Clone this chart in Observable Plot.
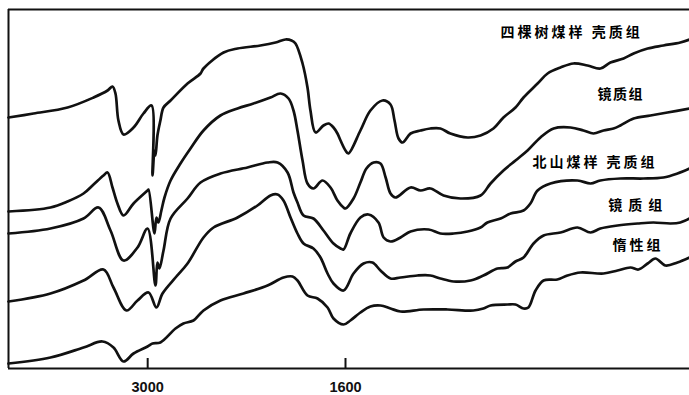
<!DOCTYPE html>
<html><head><meta charset="utf-8">
<script src="https://cdn.jsdelivr.net/npm/d3@7"></script>
<script src="https://cdn.jsdelivr.net/npm/@observablehq/plot@0.6"></script>
<style>html,body{margin:0;padding:0;background:#fff}</style>
</head><body><div id="chart"></div>
<script>
// IR spectra: [wavenumber (cm-1), relative transmittance (offset, a.u.)]
const sksExinite = [[3985,249],[3808,253],[3567,259],[3383,269],[3284,276],[3249,280],[3228,273],[3207,246],[3171,232],[3100,239],[3030,253],[2973,261],[2966,191],[2952,216],[2945,211],[2931,231],[2910,246],[2888,259],[2838,266],[2718,283],[2626,293],[2605,298],[2463,314],[2364,318],[2202,321],[2095,324],[2025,327],[1982,326],[1954,323],[1904,303],[1869,279],[1848,256],[1812,234],[1756,241],[1720,243],[1685,239],[1657,233],[1635,226],[1600,216],[1590,213],[1548,236],[1513,256],[1471,266],[1443,262],[1429,246],[1415,228],[1401,224],[1373,233],[1338,236],[1304,238],[1269,238],[1234,233],[1174,229],[1129,231],[1084,238],[1049,249],[1007,259],[979,269],[930,283],[895,293],[850,299],[805,303],[756,301],[711,298],[676,304],[630,308],[595,313],[546,318],[491,321],[432,324],[400,327]];
const sksVitrinite = [[3985,155],[3688,159],[3567,165],[3454,173],[3383,182],[3313,191],[3284,194],[3249,179],[3214,163],[3171,151],[3100,163],[3001,176],[2994,177],[2952,133],[2938,149],[2924,144],[2903,156],[2881,169],[2838,186],[2768,203],[2697,218],[2605,236],[2485,251],[2364,258],[2251,263],[2131,269],[2060,273],[2003,268],[1968,256],[1940,236],[1904,206],[1869,183],[1827,178],[1763,186],[1706,179],[1657,166],[1614,159],[1600,158],[1572,168],[1548,184],[1527,198],[1502,204],[1478,203],[1460,189],[1443,173],[1426,169],[1373,179],[1338,176],[1304,178],[1258,171],[1199,168],[1129,171],[1094,183],[1049,196],[1007,206],[965,216],[920,229],[874,238],[815,239],[770,236],[735,233],[700,236],[665,238],[641,241],[595,248],[536,251],[477,254],[400,258]];
const bsExinite = [[3985,133],[3688,138],[3454,148],[3348,159],[3263,136],[3171,106],[3072,119],[3001,138],[2945,81],[2931,104],[2917,98],[2888,116],[2838,148],[2718,168],[2626,184],[2485,193],[2294,199],[2152,204],[2081,204],[2010,194],[1968,174],[1940,164],[1897,151],[1827,148],[1756,136],[1685,123],[1635,118],[1614,117],[1583,133],[1548,149],[1520,152],[1485,144],[1467,129],[1443,125],[1408,129],[1373,135],[1310,137],[1269,133],[1223,133],[1174,135],[1129,139],[1105,144],[1059,148],[1024,153],[979,156],[955,163],[930,176],[885,183],[791,186],[745,183],[711,186],[641,188],[561,188],[491,189],[442,193],[400,198]];
const bsVitrinite = [[3985,65],[3688,73],[3454,86],[3313,97],[3242,79],[3150,56],[3072,66],[2994,74],[2938,59],[2895,73],[2803,89],[2718,103],[2605,129],[2534,139],[2364,149],[2223,161],[2131,171],[2081,172],[2039,166],[1989,149],[1940,133],[1897,123],[1827,118],[1777,109],[1727,93],[1685,83],[1614,76],[1572,93],[1537,103],[1506,104],[1478,96],[1443,88],[1408,89],[1349,91],[1304,91],[1269,88],[1223,85],[1164,86],[1119,91],[1070,98],[1035,99],[1007,105],[979,109],[944,123],[909,131],[850,134],[791,139],[745,134],[711,138],[651,141],[581,143],[526,144],[466,143],[432,144],[400,148]];
const bsInertinite = [[3985,3],[3688,9],[3454,19],[3320,25],[3242,19],[3171,5],[3100,13],[3001,20],[2966,23],[2910,24],[2803,38],[2747,43],[2676,46],[2605,56],[2485,66],[2322,73],[2152,81],[2039,89],[1975,90],[1940,86],[1869,71],[1798,68],[1727,59],[1685,48],[1614,42],[1583,46],[1548,54],[1513,60],[1478,61],[1443,58],[1408,55],[1328,57],[1244,57],[1154,56],[1119,58],[1094,61],[1035,62],[1007,62],[979,58],[962,59],[937,76],[909,86],[861,87],[826,91],[780,94],[700,93],[651,96],[606,99],[578,97],[546,103],[519,108],[484,101],[442,104],[400,109]];

const seriesIds = ["sks-exinite","sks-vitrinite","bs-exinite","bs-vitrinite","bs-inertinite"];
const seriesData = [sksExinite, sksVitrinite, bsExinite, bsVitrinite, bsInertinite];
const seriesLabels = ["四棵树煤样 壳质组","镜质组","北山煤样 壳质组","镜质组","惰性组"];
const xTicks = [3000, 1600];

const rows = seriesIds.flatMap((id, i) => seriesData[i].map(([wn, t]) => ({id, wn, t})));

// spectrometer's chart paper: scale changes at 1600 cm-1
const paper = d3.scaleLinear().domain([3985, 1600, 400]).range([0, 337, 681]);

const font = "'Noto Sans CJK SC', 'Noto Sans', sans-serif";
const labelPos = [[1059,334,3],[721,272,1.5],[948,204,3],[683,161,6],[669,121,3]];

const labelMarks = seriesLabels.map((txt, i) => Plot.text([txt], {
  x: labelPos[i][0], y: labelPos[i][1], text: d => d,
  textAnchor: "start", fontFamily: font, fontWeight: "bold", fontSize: 14,
  fill: "#000"
}));

const chart = Plot.plot({
  width: 689, height: 395, margin: 0,
  style: {background: "#fff", overflow: "visible"},
  x: {type: "linear", transform: paper, domain: [0, 681], range: [8, 689], axis: null},
  y: {domain: [0, 359], range: [366, 7], axis: null},
  marks: [
    Plot.ruleY([357], {x1: 3985, x2: 400, stroke: "#111", strokeWidth: 1.8}),
    Plot.ruleY([-2], {x1: 3985, x2: 400, stroke: "#111", strokeWidth: 2}),
    Plot.ruleX([3985], {y1: -2, y2: 357, stroke: "#111", strokeWidth: 2}),
    Plot.ruleX(xTicks, {y1: -2, y2: 8, stroke: "#111", strokeWidth: 2}),
    Plot.text(xTicks, {x: d => d, y: -21, text: d => String(d), fontFamily: "'Liberation Sans', Arial, sans-serif", fontWeight: "bold", fontSize: 14.5, fill: "#111"}),
    Plot.line(rows, {x: "wn", y: "t", z: "id", stroke: "#111", strokeWidth: 2.7, curve: "catmull-rom", strokeLinejoin: "round"}),
    ...labelMarks
  ]
});
// letter spacing of the curve labels (match by text, in order)
const allTexts = [...chart.querySelectorAll("text")];
const used = new Set();
seriesLabels.forEach((txt, i) => {
  const el = allTexts.find(t => !used.has(t) && t.textContent === txt);
  if (el) { used.add(el); el.setAttribute("letter-spacing", labelPos[i][2]); el.style.letterSpacing = labelPos[i][2] + "px"; }
});
document.getElementById("chart").appendChild(chart);
</script>
</body></html>
